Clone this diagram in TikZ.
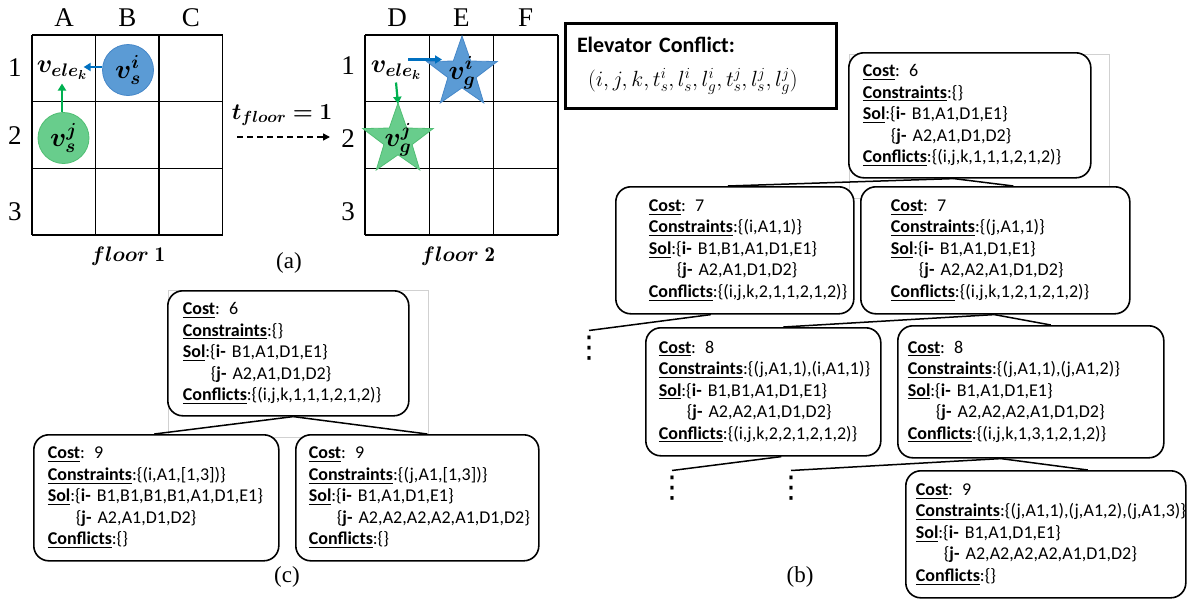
\documentclass[tikz,border=0pt]{standalone}
\usepackage{fix-cm}
\usepackage{amsmath}
\usepackage{amssymb}
\usepackage{bm}
\usepackage{fontspec}
\newfontfamily\calibri{Carlito}
\newfontfamily\cambria{Liberation Serif}
\newfontfamily\dejavu{DejaVu Sans}
\usetikzlibrary{shapes.geometric,arrows.meta}
\definecolor{ablue}{RGB}{91,155,213}
\definecolor{abluedk}{RGB}{70,135,200}
\definecolor{arrowblue}{RGB}{0,112,192}
\definecolor{agreen}{RGB}{104,205,140}
\definecolor{agreendk}{RGB}{80,190,115}
\definecolor{arrowgreen}{RGB}{0,176,80}
\tikzstyle{cellline}=[line width=1.5pt]
\tikzstyle{lbl}=[font=\cambria\fontsize{27}{27}\selectfont]
\tikzstyle{agent}=[circle, minimum size=51pt, inner sep=0pt, line width=0.8pt, font=\fontsize{27}{27}\selectfont]
\tikzstyle{goal}=[star, star points=5, star point ratio=2.5, minimum size=74pt, inner sep=0pt, line width=0.8pt, label distance=0pt]
\tikzstyle{move}=[line width=2.2pt, -{Triangle[length=7pt,width=8pt]}]
\tikzstyle{ctnode}=[draw, fill=white, rounded corners=15pt, line width=1.6pt, anchor=north west, align=left, inner ysep=0pt, font=\calibri\fontsize{18}{21.5}\selectfont]
\tikzstyle{branch}=[line width=1.5pt]
\tikzstyle{frame}=[draw=black!18, line width=0.6pt]
\tikzstyle{dots}=[inner sep=0pt, font=\dejavu\fontsize{30}{30}\selectfont]

\newcommand{\ctbox}[5]{%
\mbox{\underline{\textbf{Cost}}: #1}\\
\mbox{\underline{\textbf{Constraints}}:#2}\\
\mbox{\underline{\textbf{Sol}}:\{\textbf{i-}~#3\}}\\
\mbox{\hspace*{28pt}\{\textbf{j-}~#4\}}\\
\mbox{\underline{\textbf{Conflicts}}:#5}}

\begin{document}
\begin{tikzpicture}[x=1pt, y=-1pt, thick]
\useasboundingbox (0,0) rectangle (1190,600);

% (a) floor 1
\foreach \i in {0,...,3} {
  \draw[cellline] (32+63.5*\i,35) -- (32+63.5*\i,235);
  \draw[cellline] (32,35+66.67*\i) -- (222.5,35+66.67*\i);
}
\foreach \c [count=\k from 0] in {A,B,C}
  \node[lbl] (col\c) at (64+63.5*\k,18) {\c};
\foreach \r/\y in {1/68,2/136,3/212}
  \node[lbl] (rowa\r) at (15,\y) {\r};
\node[inner sep=0pt, font=\fontsize{26}{26}\selectfont] (ele1) at (62,70) {$\bm{v}_{\bm{ele_k}}$};
\node[agent, fill=ablue, draw=abluedk] (si) at (128,70) {$\bm{v_s^i}$};
\node[agent, fill=agreen, draw=agreendk] (sj) at (63.5,138) {$\bm{v_s^j}$};
\draw[move, color=arrowblue] ([yshift=3pt]si.west) -- ([xshift=-4pt,yshift=3pt]si.west -| ele1.east);
\draw[move, color=arrowgreen] (sj.north -| ele1.south) -- ([yshift=-4pt]ele1.south);
\node[font=\fontsize{21}{21}\selectfont] (fl1) at (128,256) {$\bm{floor}\;\mathbf{1}$};

% (a) floor 2
\foreach \i in {0,...,3} {
  \draw[cellline] (365+64.33*\i,35) -- (365+64.33*\i,235);
  \draw[cellline] (365,35+66.67*\i) -- (558,35+66.67*\i);
}
\foreach \c [count=\k from 0] in {D,E,F}
  \node[lbl] (col\c) at (397+64.33*\k,18) {\c};
\foreach \r/\y in {1/66,2/139,3/212}
  \node[lbl] (rowb\r) at (348,\y) {\r};
\node[goal, fill=ablue, draw=abluedk,
      label={[font=\fontsize{27}{27}\selectfont]center:$\bm{v_g^i}$}] (gi) at (462,73) {};
\node[goal, fill=agreen, draw=agreendk,
      label={[font=\fontsize{27}{27}\selectfont]center:$\bm{v_g^j}$}] (gj) at (398,140) {};
\node[inner sep=0pt, font=\fontsize{26}{26}\selectfont] (ele2) at (396,70) {$\bm{v}_{\bm{ele_k}}$};
\draw[move, color=arrowblue] ([xshift=12pt,yshift=1pt]ele2.north) -- ([xshift=46pt,yshift=1pt]ele2.north);
\draw[move, color=arrowgreen] ([yshift=-3pt]ele2.south) -- ([yshift=-2pt]gj.north);
\node[font=\fontsize{21}{21}\selectfont] (fl2) at (458,256) {$\bm{floor}\;\mathbf{2}$};

\coordinate (tfs) at (237,137);
\coordinate (tfe) at (330,137);
\draw[dash pattern=on 6pt off 4pt, line width=1.5pt, -{Triangle[length=7pt,width=7pt]}] (tfs) -- (tfe);
\node[font=\fontsize{23}{23}\selectfont] (tfl) at (282,115) {$\bm{t_{floor}=1}$};
\node[font=\cambria\fontsize{23}{23}\selectfont] (laba) at (289,263) {(a)};

% elevator conflict
\node[draw, line width=3pt, minimum height=85pt, text width=247pt, inner xsep=12pt, align=left,
      font=\calibri\fontsize{22}{34}\selectfont] (conf) at (700.5,65.5)
  {\textbf{Elevator Conflict:}\\ \hspace*{11pt}$(i,j,k,t_s^i,l_s^i,l_g^i,t_s^j,l_s^j,l_g^j)$};

% (b) tree
\draw[frame] (849,54) rectangle (1109,198);
\node[ctnode, minimum height=125pt, text width=214pt, inner xsep=14pt] (b0) at (848,52)
  {\ctbox{6}{\{\}}{B1,A1,D1,E1}{A2,A1,D1,D2}{\{(i,j,k,1,1,1,2,1,2)\}}};
\node[ctnode, minimum height=127pt, text width=172pt, inner xsep=33pt] (b1) at (615,186)
  {\ctbox{7}{\{(i,A1,1)\}}{B1,B1,A1,D1,E1}{A2,A1,D1,D2}{\{(i,j,k,2,1,1,2,1,2)\}}};
\node[ctnode, minimum height=127pt, text width=209pt, inner xsep=30pt] (b2) at (860,186)
  {\ctbox{7}{\{(j,A1,1)\}}{B1,A1,D1,E1}{A2,A2,A1,D1,D2}{\{(i,j,k,1,2,1,2,1,2)\}}};
\node[ctnode, minimum height=128pt, text width=209pt, inner xsep=13pt] (b3) at (645,327)
  {\ctbox{8}{\{(j,A1,1),(i,A1,1)\}}{B1,B1,A1,D1,E1}{A2,A2,A1,D1,D2}{\{(i,j,k,2,2,1,2,1,2)\}}};
\node[ctnode, minimum height=132pt, text width=246pt, inner xsep=10pt] (b4) at (897,325)
  {\ctbox{8}{\{(j,A1,1),(j,A1,2)\}}{B1,A1,D1,E1}{A2,A2,A2,A1,D1,D2}{\{(i,j,k,1,3,1,2,1,2)\}}};
\node[ctnode, minimum height=127pt, text width=260pt, inner xsep=10pt] (b5) at (905,470)
  {\ctbox{9}{\{(j,A1,1),(j,A1,2),(j,A1,3)\}}{B1,A1,D1,E1}{A2,A2,A2,A2,A1,D1,D2}{\{\}}};
\node[dots] (d1) at (589,348) {⋮};
\node[dots] (d2) at (672,488) {⋮};
\node[dots] (d3) at (791,488) {⋮};
\draw[branch] ([xshift=-16pt]b0.south) -- ([xshift=-7pt]b1.north);
\draw[branch] ([xshift=-16pt]b0.south) -- ([xshift=18pt]b2.north);
\draw[branch] ([xshift=-24pt]b1.south) -- ([yshift=5pt]d1.north);
\draw[branch] ([xshift=-1pt]b2.south) -- ([xshift=20pt]b3.north);
\draw[branch] ([xshift=-1pt]b2.south) -- ([xshift=20pt]b4.north);
\draw[branch] ([xshift=18pt]b3.south) -- ([yshift=5pt]d2.north);
\draw[branch] ([xshift=-30pt]b4.south) -- ([yshift=5pt]d3.north);
\draw[branch] ([xshift=-30pt]b4.south) -- ([xshift=42pt]b5.north);
\node[font=\cambria\fontsize{23}{23}\selectfont] (labb) at (800,577) {(b)};

% (c) tree
\draw[frame] (168,290) rectangle (428,437);
\node[ctnode, minimum height=125pt, text width=211pt, inner xsep=15pt] (c0) at (167,290)
  {\ctbox{6}{\{\}}{B1,A1,D1,E1}{A2,A1,D1,D2}{\{(i,j,k,1,1,1,2,1,2)\}}};
\node[ctnode, minimum height=126pt, text width=217pt, inner xsep=14pt] (c1) at (33,434)
  {\ctbox{9}{\{(i,A1,[1,3])\}}{B1,B1,B1,B1,A1,D1,E1}{A2,A1,D1,D2}{\{\}}};
\node[ctnode, minimum height=126pt, text width=217pt, inner xsep=13pt] (c2) at (295,434)
  {\ctbox{9}{\{(j,A1,[1,3])\}}{B1,A1,D1,E1}{A2,A2,A2,A2,A1,D1,D2}{\{\}}};
\draw[branch] ([xshift=5pt]c0.south) -- ([xshift=-2pt]c1.north);
\draw[branch] ([xshift=5pt]c0.south) -- ([xshift=10pt]c2.north);
\node[font=\cambria\fontsize{23}{23}\selectfont] (labc) at (287,577) {(c)};
\end{tikzpicture}
\end{document}
